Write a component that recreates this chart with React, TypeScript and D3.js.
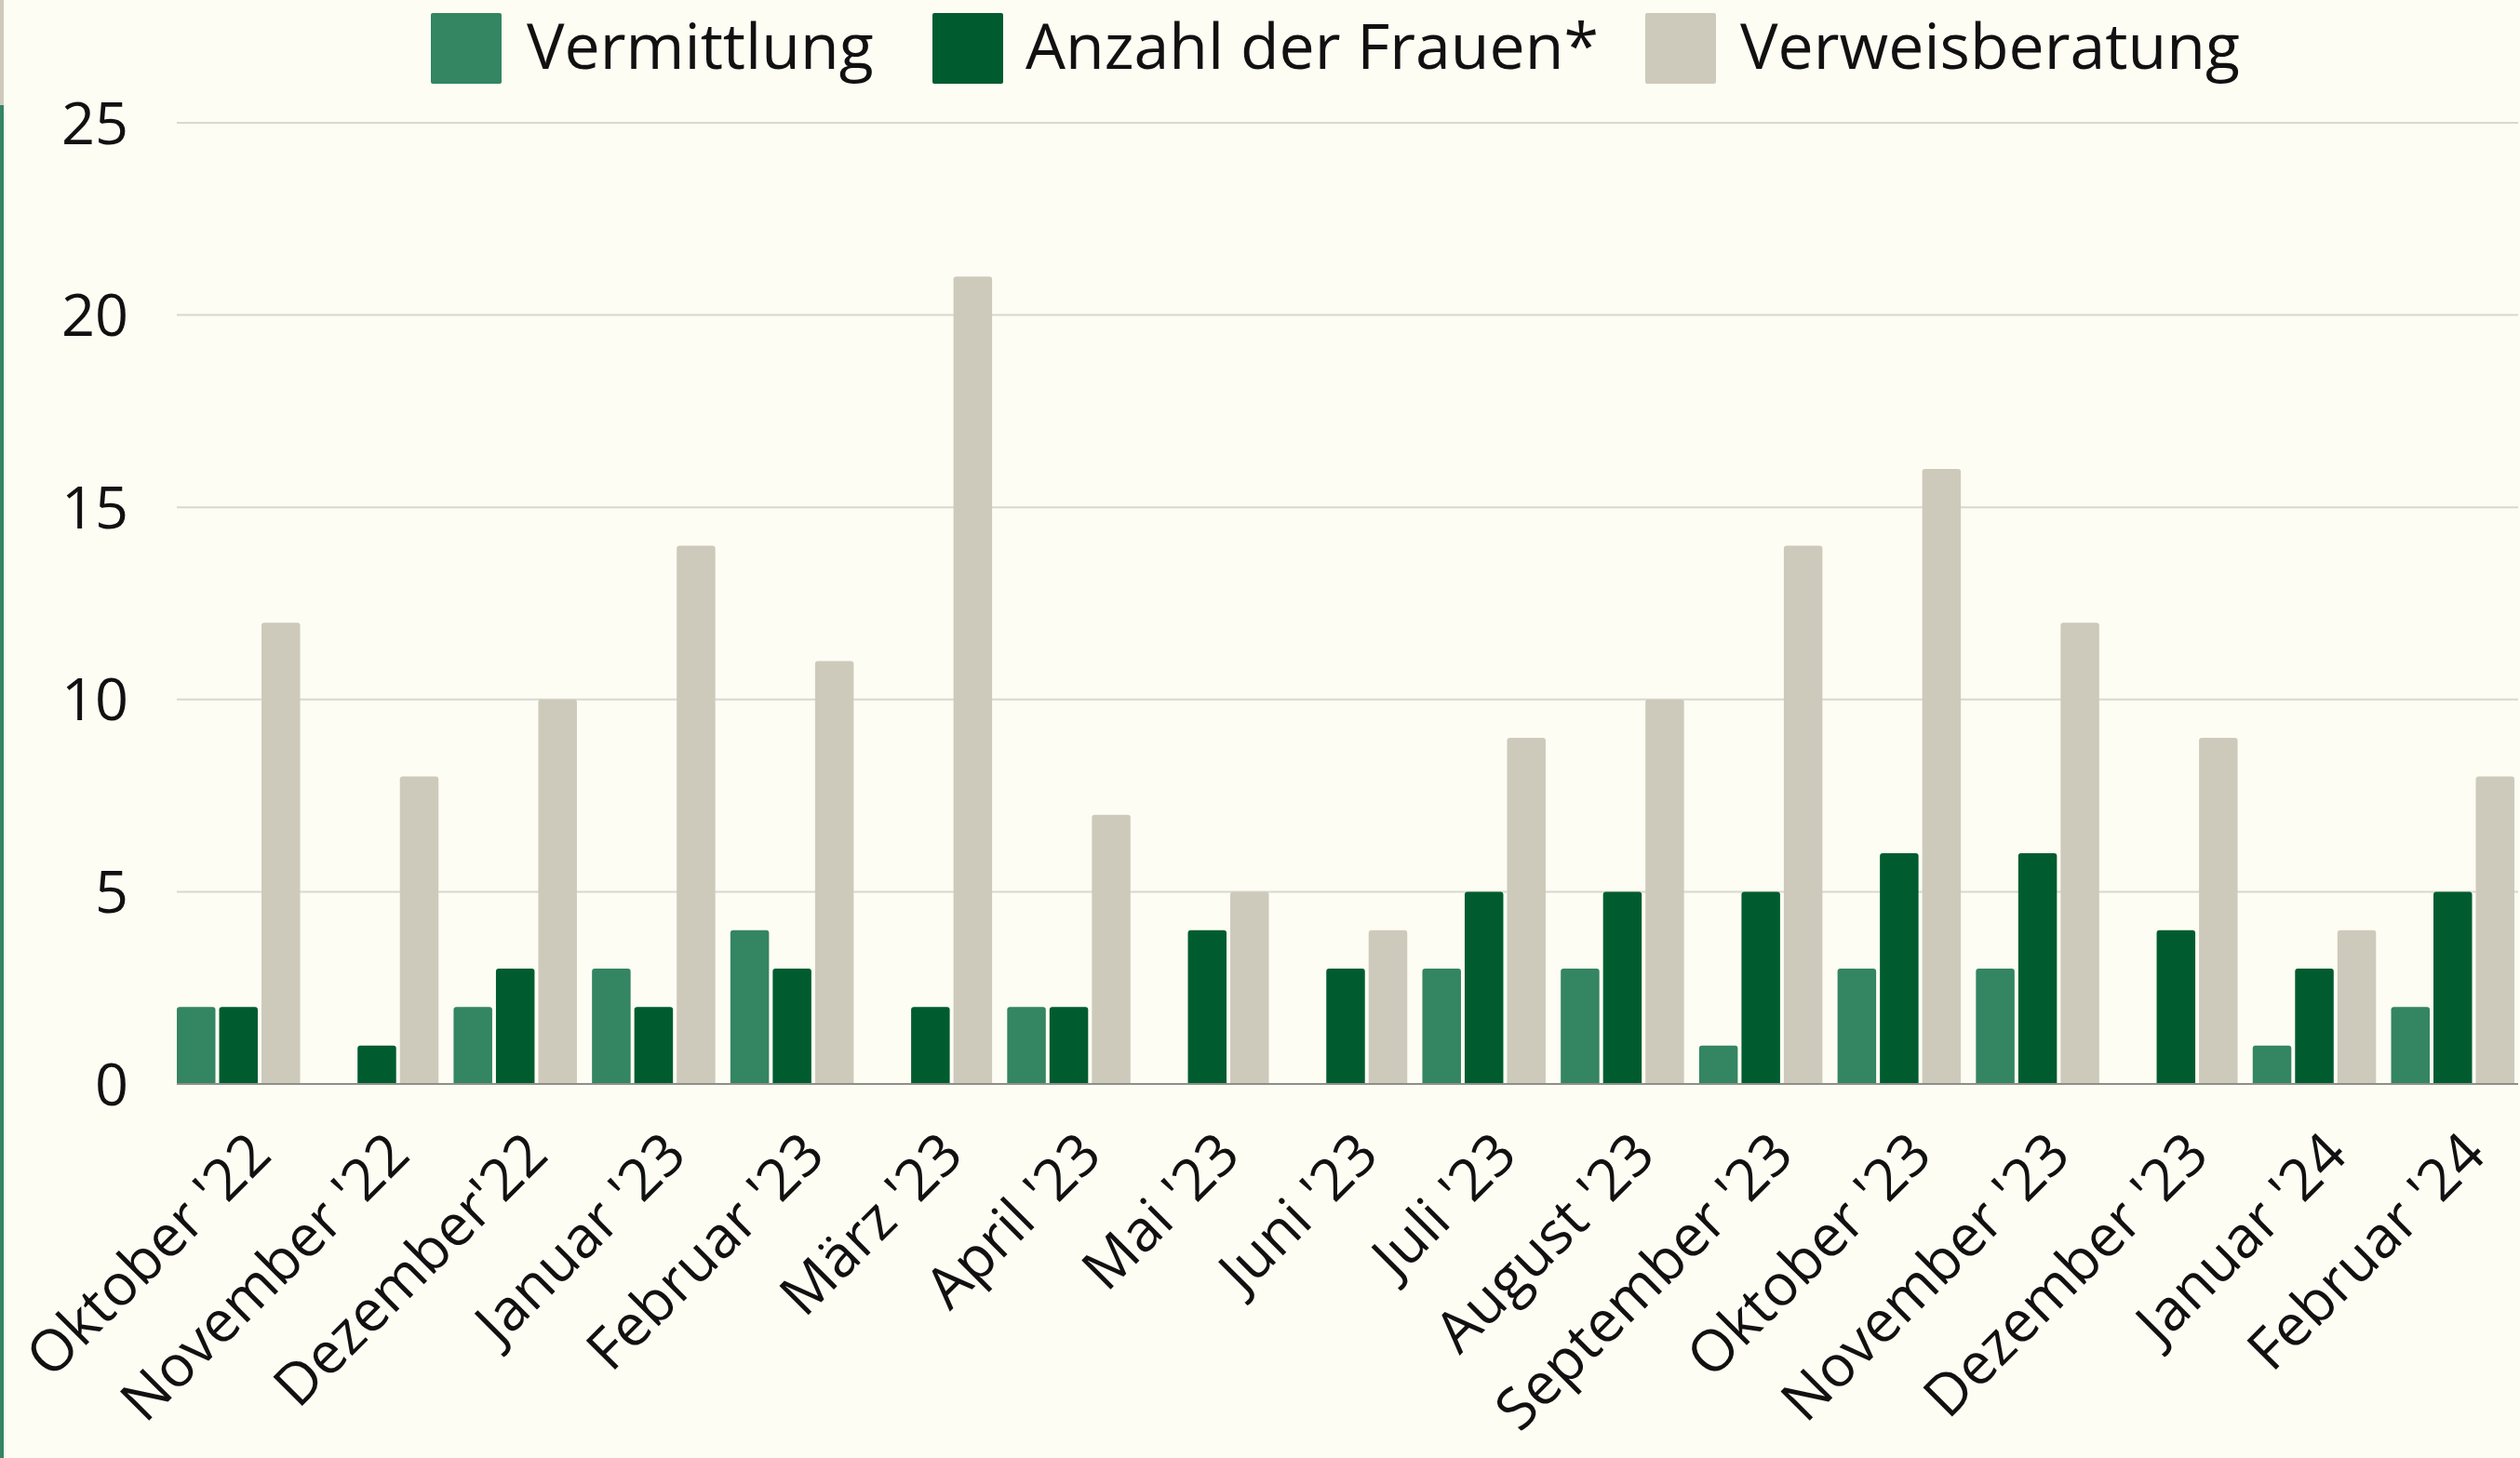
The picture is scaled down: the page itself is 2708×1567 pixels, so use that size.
import React from 'react';
import * as d3 from 'd3';

const months = [
  "Oktober '22", "November '22", "Dezember'22", "Januar '23", "Februar '23", "März '23",
  "April '23", "Mai '23", "Juni '23", "Juli '23", "August '23", "September '23",
  "Oktober '23", "November '23", "Dezember '23", "Januar '24", "Februar '24",
];
const vermittlung = [2, 0, 2, 3, 4, 0, 2, 0, 0, 3, 3, 1, 3, 3, 0, 1, 2];
const anzahlFrauen = [2, 1, 3, 2, 3, 2, 2, 4, 3, 5, 5, 5, 6, 6, 4, 3, 5];
const verweisberatung = [12, 8, 10, 14, 11, 21, 7, 5, 4, 9, 10, 14, 16, 12, 9, 4, 8];
const seriesNames = ['Vermittlung', 'Anzahl der Frauen*', 'Verweisberatung'];
const seriesColors = ['#348562', '#005c2f', '#cecabb'];
const yTicks = [0, 5, 10, 15, 20, 25];

const W = 2708;
const H = 1567;
const FONT = "'Open Sans', 'DejaVu Sans', sans-serif";

// legend item x positions (square, text) taken from the reference layout
const legendLayout = [
  {sq: 463, tx: 566},
  {sq: 1002, tx: 1102},
  {sq: 1768, tx: 1870},
];

const topRounded = (x: number, y: number, w: number, h: number, r: number) => {
  if (h <= 0) return '';
  const rr = Math.min(r, h, w / 2);
  return `M${x},${y + h}V${y + rr}Q${x},${y} ${x + rr},${y}H${x + w - rr}Q${x + w},${y} ${x + w},${y + rr}V${y + h}Z`;
};

export default function App() {
  const values = [vermittlung, anzahlFrauen, verweisberatung];

  const x0 = d3.scaleBand<string>().domain(months).range([190, 2702]).paddingInner(0.109).paddingOuter(0);
  const x1 = d3.scaleBand<string>().domain(seriesNames).range([0, x0.bandwidth()]).paddingInner(0.088);
  const y = d3.scaleLinear().domain([0, 25]).range([1165, 132]);

  return (
    <svg width={W} height={H} style={{position: 'absolute', left: 0, top: 0, display: 'block'}} fontFamily={FONT}>
      <rect x={0} y={0} width={W} height={H} fill="#fdfdf4" />
      {/* left edge strip */}
      <rect x={0} y={0} width={4} height={113} fill="#cecabb" />
      <rect x={0} y={113} width={4} height={H - 113} fill="#348562" />

      {/* legend */}
      {seriesNames.map((name, i) => (
        <g key={name}>
          <rect x={legendLayout[i].sq} y={14} width={76} height={76} rx={2} fill={seriesColors[i]} />
          <text x={legendLayout[i].tx} y={74} fontSize={68} fill="#111">{name}</text>
        </g>
      ))}

      {/* grid + y axis */}
      {yTicks.map(t => (
        <g key={t}>
          {t > 0 && <line x1={190} x2={2706} y1={y(t)} y2={y(t)} stroke="#d8d8cf" strokeWidth={2} />}
          <text x={138} y={y(t)} dy="0.36em" textAnchor="end" fontSize={63} fill="#111">{t}</text>
        </g>
      ))}

      {/* bars */}
      {months.map((m, mi) => (
        <g key={m} transform={`translate(${x0(m)},0)`}>
          {seriesNames.map((s, si) => {
            const v = values[si][mi];
            return (
              <path
                key={s}
                d={topRounded(x1(s)!, y(v), x1.bandwidth(), y(0) - y(v), 3)}
                fill={seriesColors[si]}
              />
            );
          })}
        </g>
      ))}

      {/* baseline */}
      <line x1={190} x2={2706} y1={y(0)} y2={y(0)} stroke="#8f8f8a" strokeWidth={2} />

      {/* x labels */}
      {months.map(m => {
        const cx = x0(m)! + x0.bandwidth() / 2 + 38;
        const cy = 1244;
        return (
          <text key={m} x={cx} y={cy} textAnchor="end" fontSize={62} fill="#111" transform={`rotate(-45,${cx},${cy})`}>
            {m}
          </text>
        );
      })}
    </svg>
  );
}
